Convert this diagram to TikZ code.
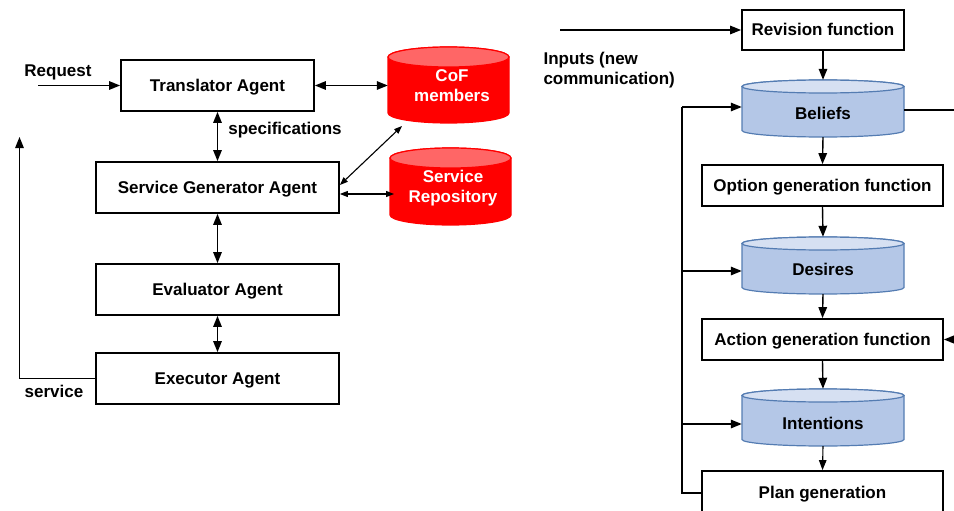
\documentclass[tikz,border=0pt]{standalone}
\usepackage{fontspec}
\setmainfont{Liberation Sans}
\usetikzlibrary{arrows.meta}

\definecolor{redbody}{RGB}{255,0,0}
\definecolor{redtop}{RGB}{255,102,102}
\definecolor{bluebody}{RGB}{180,199,231}
\definecolor{bluetop}{RGB}{214,224,242}
\definecolor{blueedge}{RGB}{84,124,178}

% cylinder drawn as a body with a lighter top ellipse
% #1 left x, #2 right x, #3 top-ellipse centre y, #4 bottom-ellipse centre y,
% #5 y radius, #6 body colour, #7 top colour, #8 edge colour
\newcommand{\drumshape}[8]{%
  \pgfmathsetmacro{\rxx}{(#2-#1)/2}%
  \pgfmathsetmacro{\cxx}{(#2+#1)/2}%
  \draw[line width=1.2pt,draw=#8,fill=#6]
    (#1,#3) -- (#1,#4) arc[start angle=180,end angle=0,x radius=\rxx,y radius=#5]
    -- (#2,#3) arc[start angle=0,end angle=-180,x radius=\rxx,y radius=#5] -- cycle;
  \draw[line width=1.2pt,draw=#8,fill=#7] (\cxx,#3) ellipse[x radius=\rxx,y radius=#5];
}

\tikzset{
  lbl/.style={font=\fontsize{17}{20}\selectfont\bfseries},
  box/.style={lbl,draw,line width=1.8pt,fill=white,inner sep=0pt,text height=12pt,text depth=0pt},
  leftbox/.style={box,minimum width=243pt,minimum height=51pt},
  rightbox/.style={box,minimum width=241pt,minimum height=41pt},
  drumlabel/.style={lbl,inner sep=0pt,minimum width=162pt,minimum height=57pt},
  drumtext/.style={lbl,text height=12pt,text depth=0pt},
  reddrum/.style={lbl,text=white,align=center,inner sep=0pt,minimum width=121pt,minimum height=76pt},
  conn/.style={line width=1.4pt,-{Triangle[length=11pt,width=8.5pt]}},
  both/.style={line width=1.4pt,{Triangle[length=11pt,width=8.5pt]}-{Triangle[length=11pt,width=8.5pt]}},
  thinboth/.style={line width=1.1pt,{Triangle[length=8pt,width=6pt]}-{Triangle[length=8pt,width=6pt]}},
  thinconn/.style={line width=1.1pt,-{Triangle[length=10pt,width=7.5pt]}},
}

\begin{document}
\begin{tikzpicture}[x=1pt,y=-1pt]
\useasboundingbox (0,0) rectangle (954,511);
\clip (0,0) rectangle (954,511);

% ---------- agent pipeline ----------
\node[box,minimum width=193pt,minimum height=51pt] (trans) at (217.5,85.5) {Translator Agent};
\node[leftbox] (gen) at (217.5,187.5) {Service Generator Agent};
\node[leftbox] (eval) at (217.5,289.5) {Evaluator Agent};
\node[leftbox] (exec) at (217.5,378.5) {Executor Agent};

% red stores
\drumshape{388}{509}{57}{113}{10}{redbody}{redtop}{redbody}
\node[reddrum] (cof) at (448.5,85) {};
\node[lbl,text=white,align=center] (coft) at (452,86) {CoF\\members};
\drumshape{390}{511}{158}{215}{10}{redbody}{redtop}{redbody}
\node[reddrum] (repo) at (450.5,186.5) {};
\node[lbl,text=white,align=center] (repot) at (453,188) {Service\\Repository};

\coordinate (reqstart) at (38,85.5);
\draw[conn] (reqstart) -- (trans.west);
\node[lbl] (req) at (58,72) {Request};

\draw[both] (trans.east) -- (cof.west |- trans.east);
\draw[both] (trans.south) -- (gen.north);
\node[lbl] (spec) at (285,130) {specifications};
\draw[thinboth] ([yshift=2.5pt]gen.east) -- (402,126);
\draw[thinboth] ([yshift=-6.5pt]gen.east) -- (394,194);
\draw[both] (gen.south) -- (eval.north);
\draw[both] (eval.south) -- (exec.north);

\coordinate (svcup) at (19.5,137);
\draw[conn] (exec.west) -| (svcup);
\node[lbl] (svc) at (54,391) {service};

% ---------- BDI cycle ----------
\node[box,minimum width=162pt,minimum height=40pt] (rev) at (823,30) {Revision function};
\coordinate (instart) at (560,30);
\draw[conn] (instart) -- (rev.west);
\node[lbl,anchor=west,align=left] (inp) at (540,70) {Inputs (new\\communication)};

\drumshape{742}{904}{86.5}{130.5}{6.5}{bluebody}{bluetop}{blueedge}
\node[drumlabel] (bel) at (823,108.5) {};
\node[drumtext] (belt) at (823,114) {Beliefs};

\node[rightbox] (opt) at (822.5,185.5) {Option generation function};

\drumshape{742}{904}{243.5}{287.5}{6.5}{bluebody}{bluetop}{blueedge}
\node[drumlabel] (des) at (823,265.5) {};
\node[drumtext] (dest) at (823,269) {Desires};

\node[rightbox] (act) at (822.5,339.5) {Action generation function};

\drumshape{742}{904}{395.5}{439.5}{6.5}{bluebody}{bluetop}{blueedge}
\node[drumlabel] (int) at (823,417.5) {};
\node[drumtext] (intt) at (823,423) {Intentions};

\node[box,minimum width=241pt,minimum height=42pt] (plan) at (822.5,492) {Plan generation};

\draw[conn] (rev.south) -- (bel.north);
\draw[conn] (bel.south) -- (opt.north);
\draw[conn] (opt.south) -- (des.north);
\draw[conn] (des.south) -- (act.north);
\draw[conn] (act.south) -- (int.north);
\draw[thinconn] (int.south) -- (plan.north);

% feedback from plan generation into the three stores
\coordinate (fb) at (682,493);
\draw[line width=1.4pt] (plan.west |- fb) -- (fb) -- (682,107);
\draw[conn] (682,107) -- (bel.west |- 0,107);
\draw[conn] (682,271) -- (des.west |- 0,271);
\draw[conn] (682,424) -- (int.west |- 0,424);

% beliefs feed action generation from the right
\coordinate (belout) at (960,110);
\draw[line width=1.4pt] (bel.east |- belout) -- (belout);
\coordinate (actin) at (962,339.5);
\draw[conn] (actin) -- (act.east);
\end{tikzpicture}
\end{document}
